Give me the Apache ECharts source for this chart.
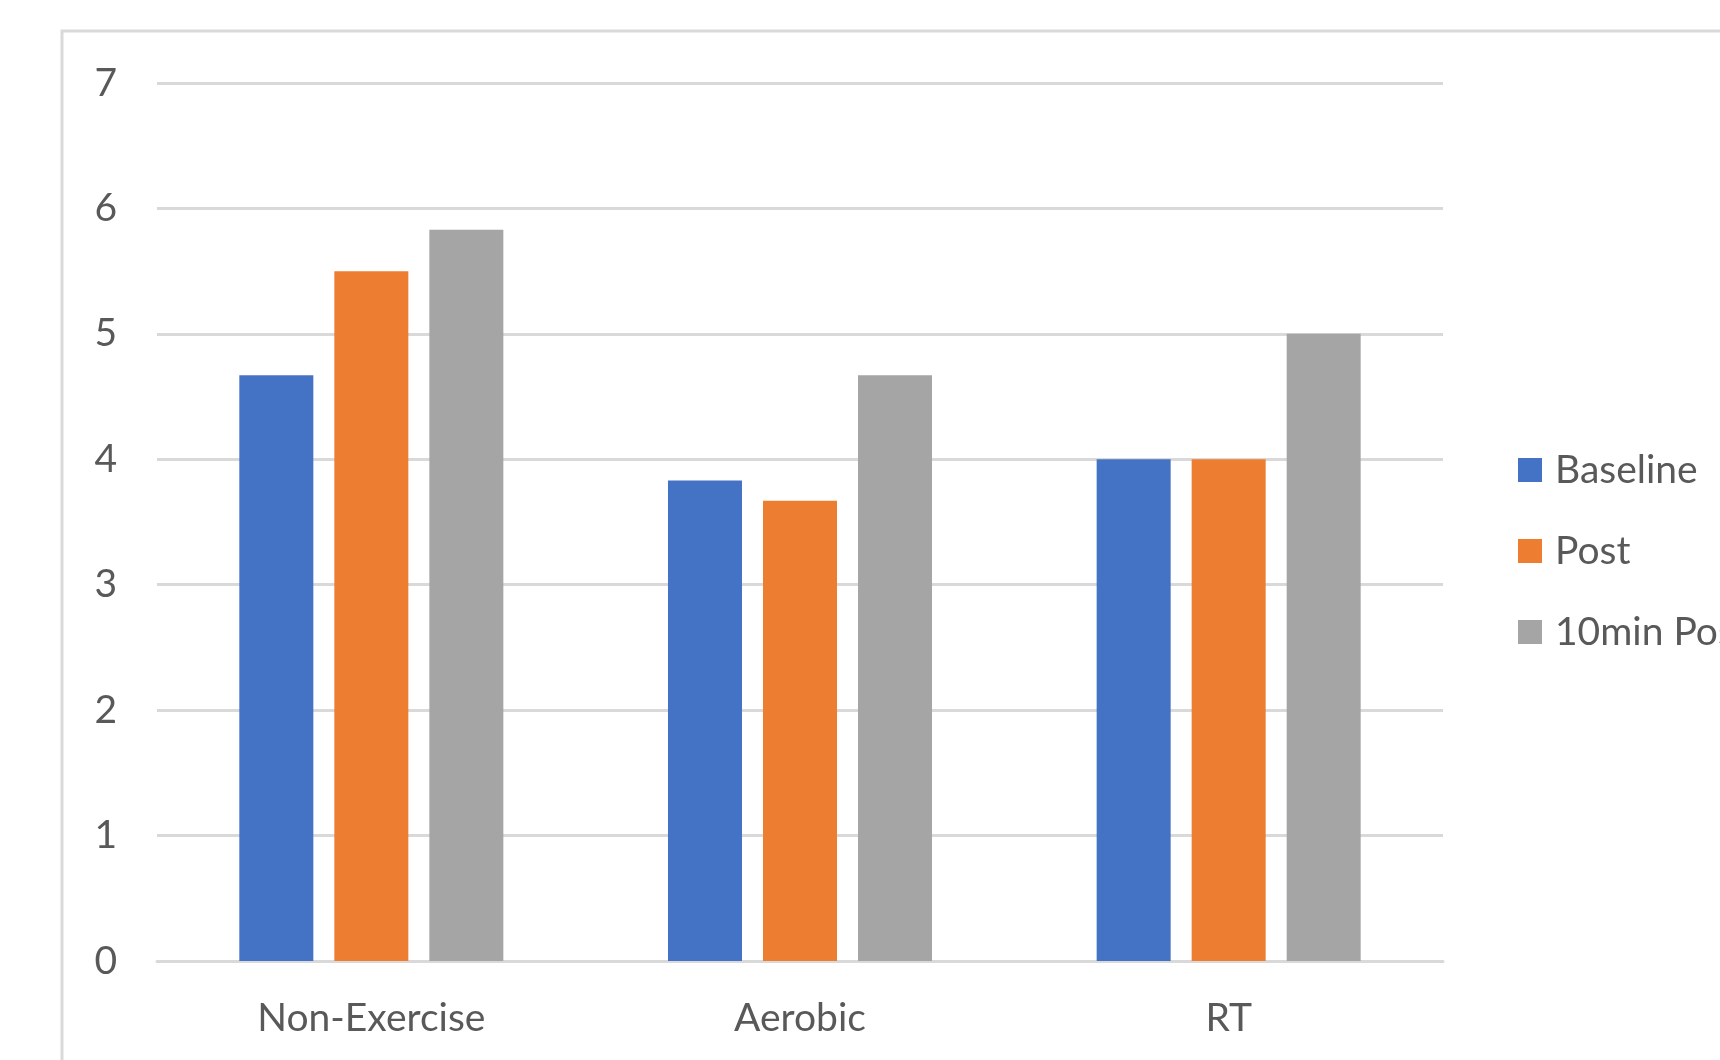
<!DOCTYPE html>
<html>
<head>
<meta charset="utf-8">
<title>Exercise groups</title>
<script src="https://cdn.jsdelivr.net/npm/echarts@6/dist/echarts.min.js"></script>
<style>
  html, body { margin: 0; padding: 0; background: #ffffff; }
  #chart { width: 1720px; height: 1060px; }
</style>
</head>
<body>
<div id="chart"></div>
<script>
// Groups along the x axis
const categories = ['Non-Exercise', 'Aerobic', 'RT'];

// Series values per group
const baseline = [4.67, 3.83, 4.0];
const post = [5.5, 3.67, 4.0];
const tenMinPost = [5.83, 4.67, 5.0];

const seriesNames = ['Baseline', 'Post', '10min Post'];
const seriesColors = ['#4472C4', '#ED7D31', '#A5A5A5'];

// Value axis range
const yMin = 0;
const yMax = 7;
const yStep = 1;

const FONT = 'Lato, "Open Sans", sans-serif';
const TEXT_COLOR = '#595959';
const GRID_COLOR = '#d9d9d9';

const chart = echarts.init(document.getElementById('chart'), null, { renderer: 'canvas' });

const values = [baseline, post, tenMinPost];

chart.setOption({
  backgroundColor: '#ffffff',
  animation: false,
  graphic: [{
    type: 'rect',
    shape: { x: 62, y: 31, width: 2000, height: 2000 },
    style: { fill: 'none', stroke: GRID_COLOR, lineWidth: 3 },
    silent: true
  }],
  grid: {
    left: 157,
    right: 277,
    top: 83,
    bottom: 99,
    containLabel: false
  },
  legend: {
    orient: 'vertical',
    left: 1513,
    top: 441,
    icon: 'rect',
    itemWidth: 24,
    itemHeight: 24,
    itemGap: 33,
    data: seriesNames,
    textStyle: {
      color: TEXT_COLOR,
      fontFamily: FONT,
      fontSize: 39,
      lineHeight: 48,
      padding: [0, 0, 0, 8]
    }
  },
  xAxis: {
    type: 'category',
    data: categories,
    axisLine: { show: true, lineStyle: { color: GRID_COLOR, width: 3 } },
    axisTick: { show: false },
    axisLabel: {
      color: TEXT_COLOR,
      fontFamily: FONT,
      fontSize: 39,
      margin: 38
    }
  },
  yAxis: {
    type: 'value',
    min: yMin,
    max: yMax,
    interval: yStep,
    axisLine: { show: false },
    axisTick: { show: false },
    splitLine: { lineStyle: { color: GRID_COLOR, width: 3 } },
    axisLabel: {
      color: TEXT_COLOR,
      fontFamily: FONT,
      fontSize: 39,
      margin: 40
    }
  },
  series: seriesNames.map((name, i) => ({
    name: name,
    type: 'bar',
    data: values[i],
    barWidth: 74,
    barGap: '28.4%',
    itemStyle: { color: seriesColors[i] }
  }))
});
</script>
</body>
</html>
